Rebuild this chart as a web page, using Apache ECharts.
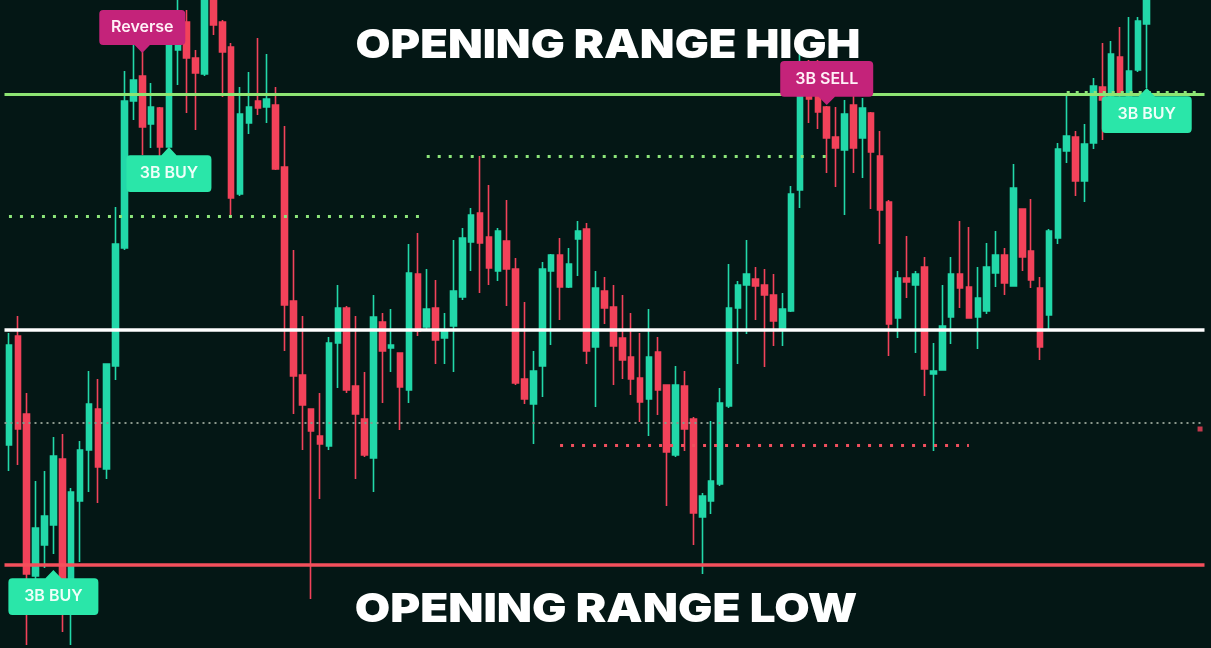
<!DOCTYPE html>
<html>
<head>
<meta charset="utf-8">
<script src="https://cdn.jsdelivr.net/npm/echarts@6/dist/echarts.min.js"></script>
<style>
html,body{margin:0;padding:0;background:#041715;}
#chart{width:1211px;height:648px;}
</style>
</head>
<body>
<div id="chart"></div>
<script>
// ---- data ----
const opens  = [203,312,234,72,103,123,189,57,147,198,239,179,282,400,547,572,524,540,501,598,626,590,574,660,626,601,454,525,547,541,543,481,347,273,239,212,202,305,340,262,229,190,326,300,295,258,374,321,340,310,322,351,406,435,411,377,407,379,269,244,282,377,393,361,409,419,301,357,341,310,291,270,249,296,263,193,262,229,131,147,164,242,340,363,369,363,353,319,337,458,580,553,541,511,498,543,510,535,492,446,330,370,363,381,274,278,331,374,361,331,337,375,393,362,439,397,360,333,410,497,511,467,505,561,552,591,552,578,624];
const closes = [303,219,74,120,132,192,69,156,198,244,181,284,404,547,568,521,541,501,605,620,590,575,660,623,596,450,534,541,540,549,479,343,272,243,217,204,305,340,258,234,193,331,297,303,261,375,317,339,308,317,357,410,433,405,380,417,379,265,249,277,379,393,361,384,417,297,360,340,302,288,269,246,291,258,196,263,219,135,152,167,245,340,363,374,362,353,327,339,454,568,549,536,510,500,534,500,540,496,438,324,370,366,374,279,277,322,374,360,330,350,381,393,365,460,391,368,301,417,499,512,467,504,562,548,594,554,577,627,660];
const lows   = [177,183,3,48,80,94,16,3,86,156,145,169,268,398,528,493,500,491,501,563,535,518,572,613,551,431,452,514,533,525,478,297,234,198,49,149,198,260,255,169,191,156,245,276,218,245,312,318,284,284,276,348,377,355,363,367,342,263,244,204,251,303,328,360,372,284,241,324,263,269,253,226,212,233,142,191,197,103,74,134,162,240,284,314,328,281,302,302,336,440,525,519,475,461,433,475,470,439,404,292,310,350,295,252,197,278,304,340,330,299,334,361,353,362,377,360,288,317,404,485,452,446,499,508,538,550,549,576,560];
const highs  = [315,332,255,167,177,211,214,160,207,277,269,284,441,577,606,596,565,541,605,655,638,598,670,670,628,605,561,576,610,594,561,522,398,332,239,255,311,363,342,332,276,353,335,339,295,404,415,379,368,335,408,420,440,492,463,420,448,390,346,297,386,394,410,400,427,425,377,371,363,353,335,315,339,311,263,282,277,231,155,227,260,384,367,408,381,379,374,355,462,603,588,588,542,541,548,573,550,536,517,448,377,412,377,391,305,363,391,427,421,381,405,417,400,484,439,449,371,419,505,553,517,524,570,605,607,621,631,631,670];

const slotCount = 135;                       // candle slots incl. empty space on the right
const categories = [];
for (let i = 0; i < slotCount; i++) {
  const m = 9 * 60 + 30 + i;
  categories.push(String(Math.floor(m / 60)).padStart(2, '0') + ':' + String(m % 60).padStart(2, '0'));
}

// price levels
const orHigh = 554;          // opening range high
const orLow = 83;            // opening range low
const midLevel = 318;        // white mid line
const grayLevel = 225;       // thin dotted level
// [startIndex, endIndex, value]
const greenDotted = [[0, 47, 432], [47, 92, 492]];
const redDotted = [[62, 108, 203]];
const greenTicks = [[119, 134, 556]];
const redDot = [[134, 219]];

// signal labels: text, candle index, tip value, side
const signals = [
  ['Reverse', 15, 595, 'down'],
  ['3B BUY', 18, 501, 'up'],
  ['3B BUY', 5, 78, 'up'],
  ['3B SELL', 92, 543, 'down'],
  ['3B BUY', 128, 560, 'up']
];

const titles = ['OPENING RANGE HIGH', 'OPENING RANGE LOW'];

// ---- chart ----
const candleData = opens.map((o, i) => [o, closes[i], lows[i], highs[i]]);

const downPath = 'path://M4,0 L86,0 Q90,0 90,4 L90,31 Q90,35 86,35 L53,35 L45,43 L37,35 L4,35 Q0,35 0,31 L0,4 Q0,0 4,0 Z';
const upPath = 'path://M4,8 L37,8 L45,0 L53,8 L86,8 Q90,8 90,12 L90,39 Q90,43 86,43 L4,43 Q0,43 0,39 L0,12 Q0,8 4,8 Z';
const sigSizes = [[86, 43], [85, 45], [90, 45], [93, 44], [90, 45]];

const markPoints = signals.map((s, k) => {
  const isDown = s[3] === 'down';
  const isBuy = s[0].indexOf('BUY') >= 0;
  return {
    coord: [categories[s[1]], s[2]],
    symbol: isDown ? downPath : upPath,
    symbolSize: sigSizes[k],
    symbolOffset: [0, isDown ? '-50%' : '50%'],
    itemStyle: { color: isBuy ? '#2ae6a9' : '#c4237a' },
    label: {
      show: true, formatter: s[0], position: 'inside',
      offset: [0, isDown ? -4 : 4],
      color: isBuy ? '#effff9' : '#fff1f7',
      fontFamily: 'Inter', fontWeight: 600, fontSize: 16
    }
  };
});

const lineSegs = [];
greenDotted.forEach(d => lineSegs.push([
  { coord: [categories[d[0]], d[2]], lineStyle: { color: '#8de57a', width: 3, type: [3, 8] } },
  { coord: [categories[d[1]], d[2]] }
]));
redDotted.forEach(d => lineSegs.push([
  { coord: [categories[d[0]], d[2]], lineStyle: { color: '#f0505e', width: 3, type: [3, 8] } },
  { coord: [categories[d[1]], d[2]] }
]));
greenTicks.forEach(d => lineSegs.push([
  { coord: [categories[d[0]], d[2]], lineStyle: { color: '#8de57a', width: 2, type: [3, 6] } },
  { coord: [categories[d[1]], d[2]] }
]));

const chart = echarts.init(document.getElementById('chart'), null, { renderer: 'canvas' });
chart.setOption({
  backgroundColor: '#041715',
  animation: false,
  grid: { left: 4.5, right: 6.5, top: 0, bottom: 0 },
  xAxis: {
    type: 'category', data: categories, boundaryGap: true,
    axisLine: { show: false }, axisTick: { show: false }, axisLabel: { show: false }, splitLine: { show: false }
  },
  yAxis: {
    type: 'value', min: 0, max: 648, scale: false,
    axisLine: { show: false }, axisTick: { show: false }, axisLabel: { show: false }, splitLine: { show: false }
  },
  graphic: [
    { type: 'text', x: 608, y: 46, scaleX: 1.13, z: 100,
      style: { text: titles[0], fill: '#ffffff', font: '900 40px Inter', textAlign: 'center', textVerticalAlign: 'middle' } },
    { type: 'text', x: 606, y: 610, scaleX: 1.145, z: 100,
      style: { text: titles[1], fill: '#ffffff', font: '900 40px Inter', textAlign: 'center', textVerticalAlign: 'middle' } }
  ],
  series: [
    {
      type: 'candlestick',
      data: candleData,
      barWidth: 6,
      z: 2,
      itemStyle: {
        color: '#22d8a9', color0: '#f2425a',
        borderColor: '#22d8a9', borderColor0: '#f2425a',
        borderWidth: 1.6
      },
      markLine: {
        silent: true, symbol: ['none', 'none'], z: 3,
        label: { show: false },
        data: [
          { yAxis: grayLevel, lineStyle: { color: '#8a988c', width: 2, type: [2, 4] } },
          { yAxis: orHigh, lineStyle: { color: '#8ee573', width: 3, type: 'solid' } },
          { yAxis: midLevel, lineStyle: { color: '#ffffff', width: 3.5, type: 'solid' } },
          { yAxis: orLow, lineStyle: { color: '#f4505c', width: 3.5, type: 'solid' } }
        ].concat(lineSegs)
      },
      markPoint: { silent: true, z: 6, data: markPoints }
    },
    {
      type: 'scatter', data: redDot.map(p => [categories[p[0]], p[1]]),
      symbol: 'rect', symbolSize: 5, itemStyle: { color: '#f2425a' }, z: 4
    }
  ]
});
</script>
</body>
</html>
